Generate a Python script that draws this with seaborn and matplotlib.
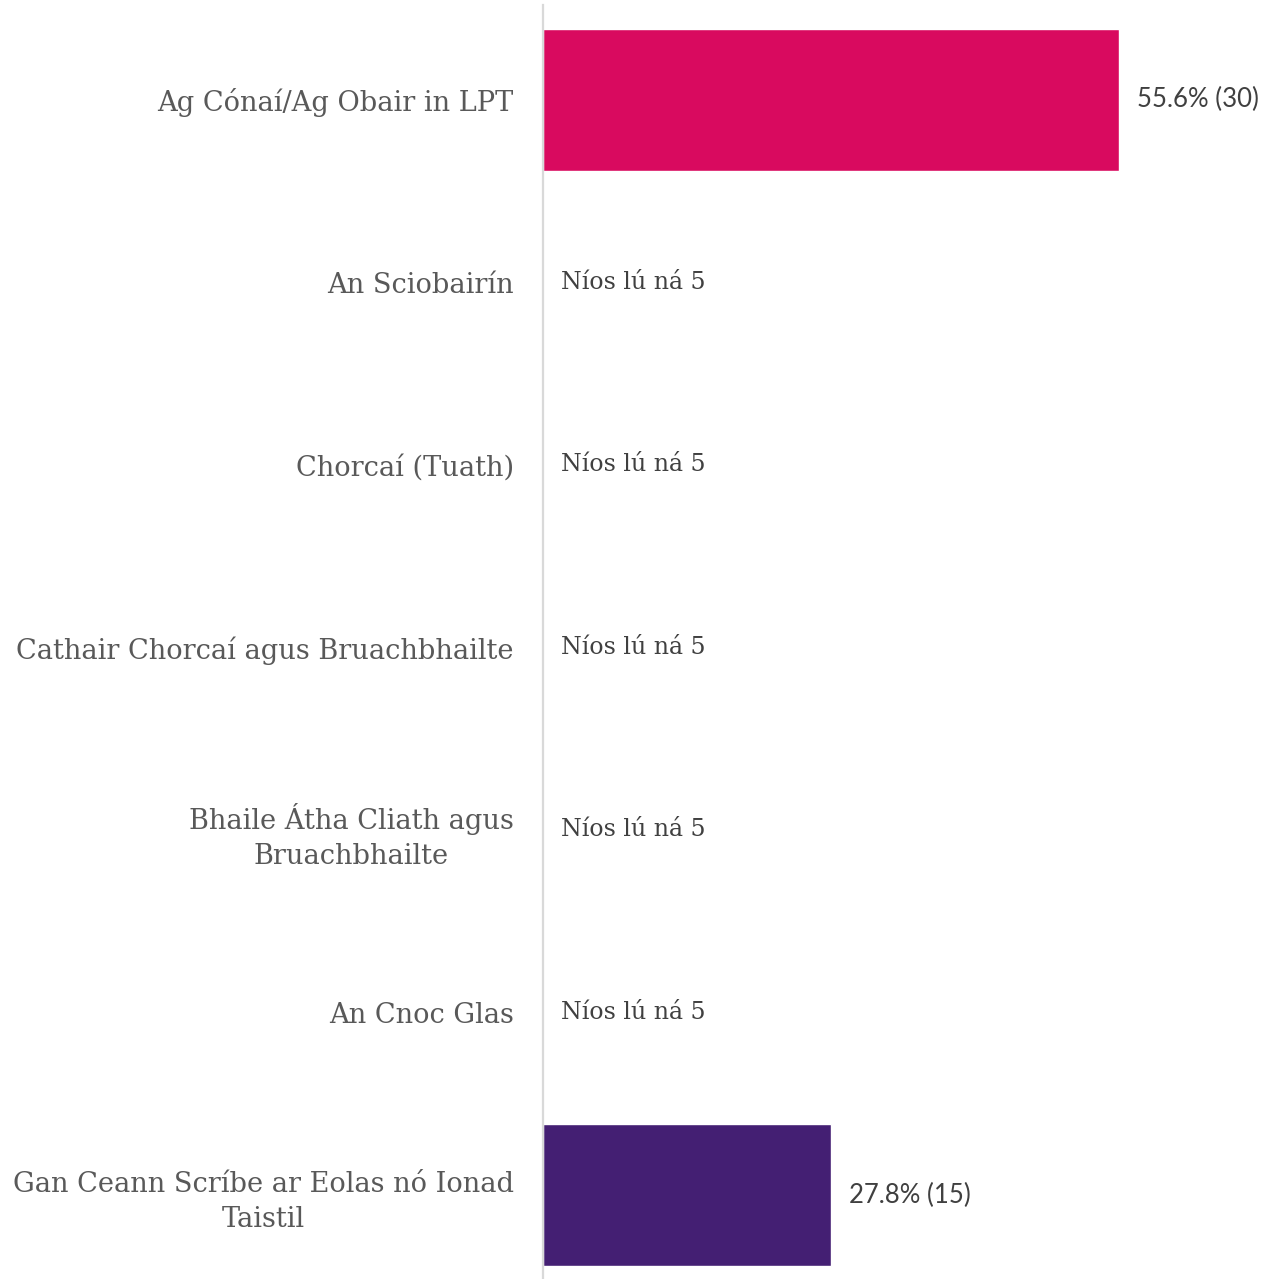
import matplotlib
matplotlib.use("Agg")
import matplotlib.pyplot as plt
import seaborn as sns
import pandas as pd

categories = [
    "Ag Cónaí/Ag Obair in LPT",
    "An Sciobairín",
    "Chorcaí (Tuath)",
    "Cathair Chorcaí agus Bruachbhailte",
    "Bhaile Átha Cliath agus\nBruachbhailte",
    "An Cnoc Glas",
    "Gan Ceann Scríbe ar Eolas nó Ionad\nTaistil",
]
values = [55.6, 0, 0, 0, 0, 0, 27.8]
counts = [30, None, None, None, None, None, 15]
colors = ["#D90A5F", "#D90A5F", "#D90A5F", "#D90A5F", "#D90A5F", "#D90A5F", "#441F73"]
small_label = "Níos lú ná 5"

df = pd.DataFrame({"cat": categories, "val": values})

sns.set_theme(style="white")
plt.rcParams["font.family"] = ["Lato", "DejaVu Sans"]

fig = plt.figure(figsize=(12.69, 12.79), dpi=100)
ax = fig.add_axes([543 / 1269, 0.0, 1 - 543 / 1269, 1274 / 1279])

sns.barplot(data=df, x="val", y="cat", hue="cat", palette=colors, legend=False,
            orient="h", width=0.777, ax=ax, saturation=1)

ax.set_xlim(0, 70.1)
ax.set_ylim(6.46, -0.52)
ax.set_xlabel("")
ax.set_ylabel("")
ax.set_xticks([])
for s in ["top", "right", "bottom"]:
    ax.spines[s].set_visible(False)
ax.spines["left"].set_color("#D9D9D9")
ax.spines["left"].set_linewidth(1.6)

ax.tick_params(axis="y", length=0, pad=21)
for lab in ax.get_yticklabels():
    lab.set_fontfamily(["DejaVu Serif"])
    lab.set_fontsize(19.6)
    lab.set_color("#595959")
    lab.set_multialignment("center")
    lab.set_linespacing(1.38)

for i, (v, c) in enumerate(zip(values, counts)):
    if c is None:
        ax.annotate(small_label, xy=(0, i), xytext=(13, 0), textcoords="offset points",
                    ha="left", va="center", fontsize=17.1, color="#404040",
                    family=["DejaVu Serif"])
    else:
        ax.annotate(f"{v:.1f}% ({c})", xy=(v, i), xytext=(13, 0), textcoords="offset points",
                    ha="left", va="center", fontsize=18.5, color="#404040",
                    family=["Lato", "DejaVu Sans"], annotation_clip=False)

fig.savefig("out.png", dpi=100)
